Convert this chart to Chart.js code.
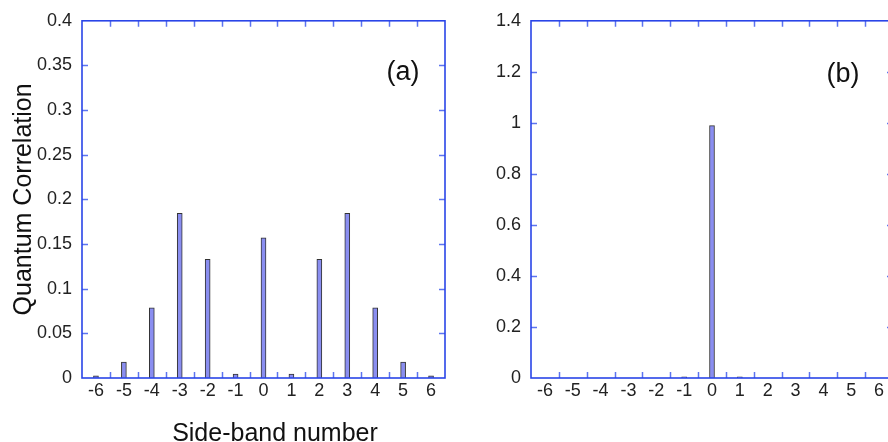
<!DOCTYPE html>
<html>
<head>
<meta charset="utf-8">
<script src="https://cdn.jsdelivr.net/npm/chart.js@4.4.1/dist/chart.umd.min.js"></script>
<style>
  body { margin: 0; width: 888px; height: 442px; overflow: hidden; background: #fff; position: relative;
         font-family: "Liberation Sans", Arial, sans-serif; }
  canvas { position: absolute; top: 0; }
  #chartA { left: 0; }
  #chartB { left: 448px; }
  #xTitle { position: absolute; left: 0; width: 550px; top: 417px; text-align: center;
            font-size: 25px; line-height: 30px; color: #111; }
</style>
</head>
<body>
<canvas id="chartA" width="460" height="442"></canvas>
<canvas id="chartB" width="460" height="442"></canvas>
<div id="xTitle">Side-band number</div>
<script>
const sideBands = ['-6', '-5', '-4', '-3', '-2', '-1', '0', '1', '2', '3', '4', '5', '6'];
const corrA = [0.0025, 0.0177, 0.0787, 0.1844, 0.1328, 0.0044, 0.157, 0.0044, 0.1328, 0.1844, 0.0787, 0.0177, 0.0025];
const corrB = [0, 0, 0, 0, 0, 0.005, 0.989, 0.005, 0, 0, 0, 0, 0];
const yTicksA = [0, 0.05, 0.1, 0.15, 0.2, 0.25, 0.3, 0.35, 0.4];
const yTicksB = [0, 0.2, 0.4, 0.6, 0.8, 1, 1.2, 1.4];
const panelLabels = ['(a)', '(b)'];

const FONT = '"Liberation Sans", Arial, sans-serif';

// blue box with inward ticks on all four sides
const frameTicks = {
  id: 'frameTicks',
  afterDraw(chart) {
    const { ctx, chartArea: a, scales: { x, y } } = chart;
    const len = 6;
    ctx.save();
    ctx.strokeStyle = '#5c74f0';
    ctx.lineWidth = 1.5;
    ctx.beginPath();
    for (let i = 1; i < x.ticks.length; i++) {
      const px = Math.round((x.getPixelForValue(i - 1) + x.getPixelForValue(i)) / 2) + 0.5;
      ctx.moveTo(px, a.bottom); ctx.lineTo(px, a.bottom - len);
      ctx.moveTo(px, a.top); ctx.lineTo(px, a.top + len);
    }
    y.ticks.forEach(t => {
      if (t.value <= y.min || t.value >= y.max) return;
      const py = Math.round(y.getPixelForValue(t.value)) + 0.5;
      ctx.moveTo(a.left, py); ctx.lineTo(a.left + len, py);
      ctx.moveTo(a.right, py); ctx.lineTo(a.right - len, py);
    });
    ctx.stroke();
    ctx.strokeStyle = '#2a45e8';
    ctx.lineWidth = 1.6;
    ctx.strokeRect(a.left, a.top, a.right - a.left, a.bottom - a.top);
    ctx.restore();
  }
};

const panelTag = {
  id: 'panelTag',
  afterDraw(chart, args, opts) {
    const { ctx, chartArea: a } = chart;
    ctx.save();
    ctx.font = '27px ' + FONT;
    ctx.fillStyle = '#111';
    ctx.textAlign = 'center';
    ctx.textBaseline = 'middle';
    ctx.fillText(opts.text, a.right - opts.dx, a.top + opts.dy);
    ctx.restore();
  }
};

function makeChart(id, values, yTicks, axisWidth, tag, yTitle) {
  new Chart(document.getElementById(id), {
    type: 'bar',
    data: {
      labels: sideBands,
      datasets: [{
        data: values,
        backgroundColor: '#8a8ef0',
        borderColor: '#333',
        borderWidth: 1,
        barThickness: 5
      }]
    },
    options: {
      responsive: false,
      animation: false,
      layout: { padding: { top: 16, right: 15, left: 0, bottom: 0 } },
      plugins: {
        legend: { display: false },
        tooltip: { enabled: false },
        panelTag: tag
      },
      scales: {
        x: {
          offset: true,
          grid: { display: false, drawTicks: false },
          border: { display: false },
          ticks: { color: '#222', font: { family: FONT, size: 18 }, padding: 2, maxRotation: 0, autoSkip: false },
          afterFit: s => { s.height = 64; }
        },
        y: {
          min: yTicks[0],
          max: yTicks[yTicks.length - 1],
          afterBuildTicks: s => { s.ticks = yTicks.map(v => ({ value: v })); },
          grid: { display: false, drawTicks: false },
          border: { display: false },
          ticks: { color: '#222', font: { family: FONT, size: 18 }, padding: 10, callback: v => String(v) },
          title: yTitle
            ? { display: true, text: yTitle, color: '#111', font: { family: FONT, size: 25 }, padding: { top: 9, bottom: 0 } }
            : { display: false },
          afterFit: s => { s.width = axisWidth; }
        }
      }
    },
    plugins: [frameTicks, panelTag]
  });
}

makeChart('chartA', corrA, yTicksA, 82, { text: panelLabels[0], dx: 42, dy: 52 }, 'Quantum Correlation');
makeChart('chartB', corrB, yTicksB, 83, { text: panelLabels[1], dx: 50, dy: 54 }, null);
</script>
</body>
</html>
